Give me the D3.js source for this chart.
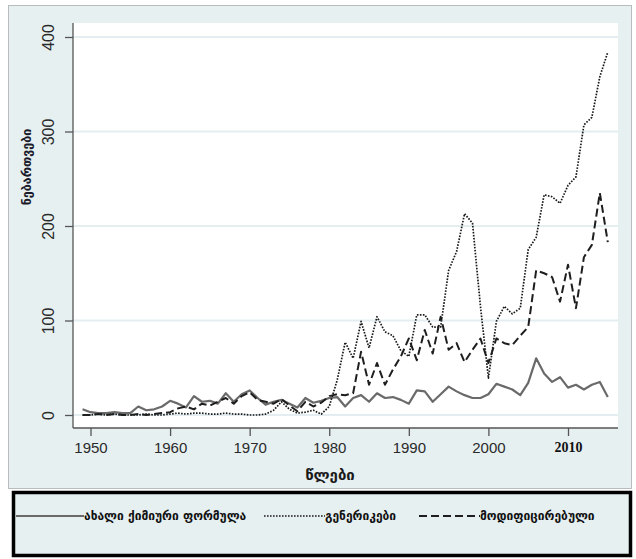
<!DOCTYPE html>
<html>
<head>
<meta charset="utf-8">
<script src="https://cdn.jsdelivr.net/npm/d3@7"></script>
<style>
  body { margin: 0; background: #fff; }
  svg { display: block; }
</style>
</head>
<body>
<svg width="636" height="559"></svg>
<script>
(function () {

  const years = d3.range(1949, 2016);

  // ახალი ქიმიური ფორმულა
  const newChemical = [6, 3, 2, 2, 3, 2, 2, 9, 5, 6, 9, 15, 12, 8, 20, 14, 15, 12, 23, 14,
    22, 26, 18, 11, 14, 16, 12, 8, 18, 13, 15, 18, 19, 9, 18, 21, 14, 23, 18, 19,
    16, 12, 26, 25, 14, 22, 30, 25, 21, 18, 18, 22, 33, 30, 27, 21, 34, 60, 44, 35,
    40, 29, 32, 27, 32, 35, 19];

  // გენერიკები
  const generics = [0, 0, 1, 0, 1, 0, 0, 0, 1, 0, 0, 1, 2, 1, 2, 2, 1, 1, 2, 1,
    1, 0, 0, 1, 5, 14, 6, 2, 3, 5, 1, 9, 37, 77, 60, 99, 71, 104, 88, 84,
    68, 62, 106, 106, 93, 93, 153, 173, 213, 203, 115, 39, 99, 115, 107, 113, 175, 188, 233, 231,
    224, 243, 252, 307, 315, 358, 384];

  // მოდიფიცირებული
  const modified = [0, 0, 1, 0, 1, 0, 0, 1, 0, 1, 2, 3, 7, 9, 6, 12, 10, 14, 18, 12,
    20, 24, 16, 14, 12, 17, 10, 4, 14, 9, 13, 20, 22, 21, 23, 67, 32, 55, 32, 48,
    62, 81, 58, 90, 65, 104, 69, 76, 56, 69, 81, 55, 81, 76, 74, 84, 93, 153, 150, 146,
    120, 159, 113, 167, 180, 235, 183];

  const xTicks = [1950, 1960, 1970, 1980, 1990, 2000, 2010];
  const yTicks = [0, 100, 200, 300, 400];

  const series = [
    { name: "ახალი ქიმიური ფორმულა", values: newChemical, stroke: "#6a6a6a", width: 2.2, dash: null },
    { name: "გენერიკები", values: generics, stroke: "#1a1a1a", width: 1.7, dash: "1.6,1.4" },
    { name: "მოდიფიცირებული", values: modified, stroke: "#1e1e1e", width: 2, dash: "8,4" }
  ];

  const svg = d3.select("svg");
  const bg = "#e7f0f1";
  const plot = { left: 73, right: 618, top: 23, bottom: 428 };

  const x = d3.scaleLinear().domain([1950, 2010]).range([90.5, 568]);
  const y = d3.scaleLinear().domain([0, 400]).range([415, 37]);

  // outer panel
  svg.append("rect")
    .attr("x", 8.5).attr("y", 5.5)
    .attr("width", 623).attr("height", 483)
    .attr("fill", bg)
    .attr("stroke", "#b8bcbd");

  // plot area
  svg.append("rect")
    .attr("x", plot.left).attr("y", plot.top)
    .attr("width", plot.right - plot.left).attr("height", plot.bottom - plot.top)
    .attr("fill", "#fff");

  // grid lines
  svg.append("g")
    .selectAll("line")
    .data(yTicks)
    .enter().append("line")
    .attr("x1", plot.left).attr("x2", plot.right)
    .attr("y1", d => y(d)).attr("y2", d => y(d))
    .attr("stroke", "#e4eef1")
    .attr("stroke-width", 2);

  // y axis
  const yAxis = svg.append("g")
    .attr("transform", `translate(${plot.left},0)`)
    .call(d3.axisLeft(y).tickValues(yTicks).tickSize(8).tickPadding(4));
  yAxis.select(".domain")
    .attr("d", `M0,${plot.top}V${plot.bottom}`)
    .attr("stroke", "#555").attr("stroke-width", 1.3);
  yAxis.selectAll(".tick line").attr("stroke", "#555").attr("stroke-width", 1.3);
  yAxis.selectAll(".tick text")
    .attr("transform", "rotate(-90)")
    .attr("x", 0).attr("y", -19)
    .attr("dy", 0)
    .attr("text-anchor", "middle")
    .attr("fill", "#2a2a2a")
    .style("font-family", "'Liberation Sans', Arial, sans-serif")
    .style("font-size", "16px");

  // x axis
  const xAxis = svg.append("g")
    .attr("transform", `translate(0,${plot.bottom})`)
    .call(d3.axisBottom(x).tickValues(xTicks).tickFormat(d3.format("d")).tickSize(8).tickPadding(6));
  xAxis.select(".domain")
    .attr("d", `M${plot.left},0H${plot.right}`)
    .attr("stroke", "#555").attr("stroke-width", 1.3);
  xAxis.selectAll(".tick line").attr("stroke", "#555").attr("stroke-width", 1.3);
  xAxis.selectAll(".tick text")
    .attr("fill", "#2a2a2a")
    .attr("y", 14)
    .attr("dy", "0.71em")
    .style("font-family", "'Liberation Sans', Arial, sans-serif")
    .style("font-size", "15px");
  xAxis.selectAll(".tick text")
    .filter(d => d === 2010)
    .style("font-family", "'Liberation Serif', serif")
    .style("font-weight", "bold")
    .style("font-size", "14px")
    .attr("fill", "#111");

  // lines
  const line = d3.line()
    .x((d, i) => x(years[i]))
    .y(d => y(d));

  svg.append("g")
    .selectAll("path")
    .data(series)
    .enter().append("path")
    .attr("d", d => line(d.values))
    .attr("fill", "none")
    .attr("stroke", d => d.stroke)
    .attr("stroke-width", d => d.width)
    .attr("stroke-dasharray", d => d.dash)
    .attr("stroke-linejoin", "round");

  // axis titles
  svg.append("text")
    .attr("transform", "translate(31,167) rotate(-90)")
    .attr("text-anchor", "middle")
    .attr("fill", "#1a1a2a")
    .style("font-family", "'DejaVu Sans', sans-serif")
    .style("font-weight", "bold")
    .style("font-size", "12.5px")
    .text("ნებართვები");

  svg.append("text")
    .attr("x", 330).attr("y", 480)
    .attr("text-anchor", "middle")
    .attr("fill", "#1a1a1a")
    .style("font-family", "'DejaVu Sans', sans-serif")
    .style("font-weight", "bold")
    .style("font-size", "15px")
    .text("წლები");

  // legend
  svg.append("rect")
    .attr("x", 13.5).attr("y", 492.5)
    .attr("width", 617).attr("height", 63)
    .attr("fill", bg)
    .attr("stroke", "#000")
    .attr("stroke-width", 3.5);

  const legendItems = [
    { s: series[0], x1: 16, x2: 84, tx: 84 },
    { s: series[1], x1: 264, x2: 325, tx: 325 },
    { s: series[2], x1: 419, x2: 480, tx: 480 }
  ];
  const leg = svg.append("g").selectAll("g")
    .data(legendItems)
    .enter().append("g");
  leg.append("line")
    .attr("x1", d => d.x1).attr("x2", d => d.x2)
    .attr("y1", 516).attr("y2", 516)
    .attr("stroke", d => d.s.stroke)
    .attr("stroke-width", d => d.s === series[1] ? 1.3 : d.s.width)
    .attr("stroke-dasharray", d => d.s.dash);
  leg.append("text")
    .attr("x", d => d.tx).attr("y", 520)
    .attr("fill", "#111")
    .style("font-family", "'DejaVu Sans', sans-serif")
    .style("font-weight", "bold")
    .style("font-size", "12px")
    .text(d => d.s.name);

}());
</script>
</body>
</html>
